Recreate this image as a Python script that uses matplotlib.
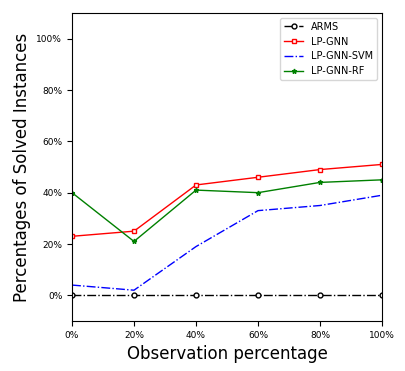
import matplotlib
matplotlib.use("Agg")
import matplotlib.pyplot as plt
from matplotlib.ticker import FuncFormatter

x = [0, 20, 40, 60, 80, 100]
arms = [0, 0, 0, 0, 0, 0]
lp_gnn = [23, 25, 43, 46, 49, 51]
lp_gnn_svm = [4, 2, 19, 33, 35, 39]
lp_gnn_rf = [40, 21, 41, 40, 44, 45]
xticks = [0, 20, 40, 60, 80, 100]
yticks = [0, 20, 40, 60, 80, 100]

fig = plt.figure(figsize=(4.05, 3.71), dpi=100)
ax = fig.add_axes([72/405, 1-321/371, 310/405, 308/371])
ax.plot(x, arms, color='black', linestyle='-.', marker='o', markersize=3.5,
        markerfacecolor='white', linewidth=1, label='ARMS')
ax.plot(x, lp_gnn, color='red', linestyle='-', marker='s', markersize=3.5,
        markerfacecolor='white', linewidth=1, label='LP-GNN')
ax.plot(x, lp_gnn_svm, color='blue', linestyle='-.', linewidth=1, label='LP-GNN-SVM')
ax.plot(x, lp_gnn_rf, color='green', linestyle='-', marker='*', markersize=3.5,
        linewidth=1, label='LP-GNN-RF')
ax.set_xlim(0, 100)
ax.set_ylim(-10, 110)
ax.set_xticks(xticks)
ax.set_yticks(yticks)
pct = FuncFormatter(lambda v, p: f"{int(v)}%")
ax.xaxis.set_major_formatter(pct)
ax.yaxis.set_major_formatter(pct)
ax.tick_params(labelsize=6.5)
ax.set_xlabel('Observation percentage', fontsize=12)
ax.set_ylabel('Percentages of Solved Instances', fontsize=12)
ax.legend(loc='upper right', fontsize=7)
fig.savefig('out.png', dpi=100)
